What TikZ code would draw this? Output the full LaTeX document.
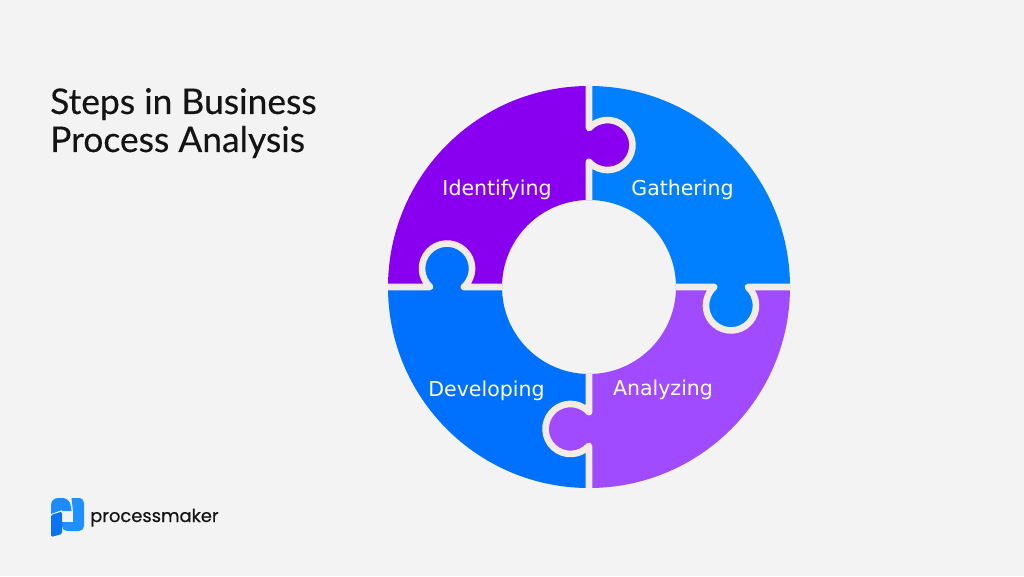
\documentclass[tikz,border=0pt]{standalone}
\usepackage{fontspec}
\setmainfont{DejaVu Sans}
\newfontfamily\titlefont[RawFeature={embolden=0.3}]{Lato}
\newfontfamily\logofont[RawFeature={embolden=0.4}]{Poppins}
\definecolor{bgc}{HTML}{F3F3F3}
\definecolor{seamc}{HTML}{F3ECE4}
\definecolor{pa}{HTML}{8900F0}
\definecolor{pb}{HTML}{0080FF}
\definecolor{pc}{HTML}{A04BFF}
\definecolor{pd}{HTML}{0070FF}
\definecolor{logoa}{HTML}{1A8CFF}
\definecolor{logob}{HTML}{1E90FF}
\definecolor{logoc}{HTML}{0A72F5}
\tikzset{
  steplabel/.style={text=white,font=\fontsize{20.5}{20.5}\selectfont,anchor=base,inner sep=0pt},
  titletext/.style={text=black!92,font=\titlefont\fontsize{35.4}{38}\selectfont,anchor=base west,inner sep=0pt},
  seamline/.style={draw=seamc,line width=6.6pt,line join=round,line cap=butt}
}
\newcommand{\Quad}[2]{%
  \begin{scope}[shift={(589,289)},rotate=#1]
    \fill[#2] (0,87) -- (0,201) arc[start angle=90,end angle=0,radius=201] -- (87,0) arc[start angle=0,end angle=90,radius=87] -- cycle;
  \end{scope}}
\newcommand{\Tab}[2]{%
  \begin{scope}[shift={(589,289)},rotate=#1]
    \fill[#2] (18.5,142) circle[radius=25];
  \end{scope}}
\newcommand{\Seam}[1]{%
  \begin{scope}[shift={(589,289)},rotate=#1]
    \draw[seamline] (0,201) -- (0,158.8) arc[start angle=137.7,end angle=-137.7,radius=25] -- (0,87);
  \end{scope}}
\begin{document}
\begin{tikzpicture}[x=1pt,y=1pt]
\useasboundingbox (0,0) rectangle (1024,576);
\fill[bgc] (0,0) rectangle (1024,576);
\Quad{0}{pb}\Quad{-90}{pc}\Quad{-180}{pd}\Quad{-270}{pa}
\Tab{0}{pa}\Tab{-90}{pb}\Tab{-180}{pc}\Tab{-270}{pd}
\Seam{0}\Seam{-90}\Seam{-180}\Seam{-270}
\node[steplabel] (identifying) at (497,380) {Identifying};
\node[steplabel] (gathering) at (682.5,380) {Gathering};
\node[steplabel] (analyzing) at (663,181) {Analyzing};
\node[steplabel] (developing) at (486.5,180) {Developing};
\node[titletext] (title1) at (50,462) {Steps in Business};
\node[titletext] (title2) at (50,424) {Process Analysis};
% logo
\fill[logob,rounded corners=2pt] (71.5,78) -- (80,78) [rounded corners=5pt] -- (84,78) -- (84,45) -- (62,45) [rounded corners=0pt] -- (62,54) -- (73,54) -- (73,65) -- cycle;
\fill[logoa,rounded corners=7pt] (51,62) -- (51,78) -- (69.5,78) [rounded corners=0pt] -- (71.5,65) -- (62,65) -- (62,66) -- (51,62) -- cycle;
\fill[logoc,rounded corners=1.5pt] (51,61) -- (62,64.5) -- (62,42) -- (51,39) -- cycle;
\node[text=black!92,font=\logofont\fontsize{17.9}{18}\selectfont,anchor=base west,inner sep=0pt] (logotext) at (90,54) {processmaker};
\end{tikzpicture}
\end{document}
